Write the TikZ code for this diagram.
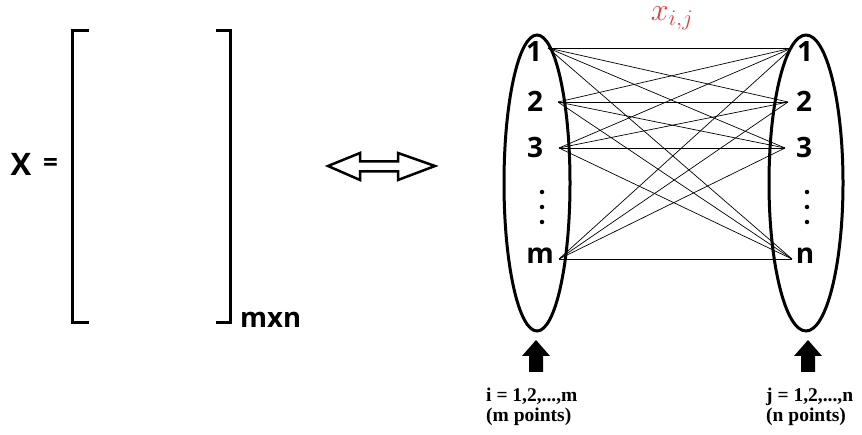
\RequirePackage{fix-cm}
\documentclass[tikz,border=0pt]{standalone}
\usepackage{fontspec}
\setsansfont{Open Sans}
\newfontfamily\timesbf{Liberation Serif}
\definecolor{xred}{RGB}{225,60,60}
\begin{document}
\begin{tikzpicture}[x=1pt,y=-1pt,
  lbl/.style={font=\sffamily\bfseries\fontsize{28}{30}\selectfont, inner sep=0pt, anchor=center},
  brk/.style={line width=3pt, line cap=butt},
  oval/.style={line width=3pt, draw=black},
  edge/.style={line width=0.7pt},
  blockarrow/.style={fill=black, draw=none},
  caption/.style={font=\timesbf\bfseries\fontsize{19.5}{21}\selectfont, inner sep=0pt, anchor=base west},
  dot/.style={circle, fill=black, inner sep=0pt, minimum size=4.5pt}]
\useasboundingbox (0,0) rectangle (862,435);
% matrix side
\node[font=\sffamily\bfseries\fontsize{31}{33}\selectfont, inner sep=0pt] (X) at (21,164) {X};
\node[font=\sffamily\bfseries\fontsize{26}{28}\selectfont, inner sep=0pt] (eq) at (50.5,165) {=};
\coordinate (bl1) at (89,31);
\coordinate (bl2) at (72,31);
\coordinate (bl3) at (72,323);
\coordinate (bl4) at (89,323);
\draw[brk] (bl1) -- (bl2) -- (bl3) -- (bl4);
\coordinate (br1) at (216,31);
\coordinate (br2) at (230,31);
\coordinate (br3) at (230,323);
\coordinate (br4) at (216,323);
\draw[brk] (br1) -- (br2) -- (br3) -- (br4);
\node[font=\sffamily\bfseries\fontsize{27.5}{29}\selectfont, inner sep=0pt, anchor=base west] (mxn) at (240,328) {mxn};
% double arrow
\draw[line width=2.5pt, fill=white, line join=miter]
  (328,166) -- (360,153) -- (360,161.5) -- (398,161.5) -- (398,153) -- (435,166)
  -- (398,180) -- (398,171.5) -- (360,171.5) -- (360,180) -- cycle;
% ellipses
\draw[oval] (537,183) ellipse [x radius=33, y radius=148];
\draw[oval] (806,183) ellipse [x radius=37, y radius=148];
% labels
\node[lbl] (l1) at (534,52) {1};
\node[lbl] (l2) at (535,101) {2};
\node[lbl] (l3) at (535,148) {3};
\node[lbl] (lm) at (540,256) {m};
\node[dot] (ld1) at (542,192) {};
\node[dot] (ld2) at (542,207) {};
\node[dot] (ld3) at (542,222) {};
\node[lbl] (r1) at (805,52) {1};
\node[lbl] (r2) at (804,101) {2};
\node[lbl] (r3) at (804,148) {3};
\node[lbl] (rn) at (805,256) {n};
\node[dot] (rd1) at (807,192) {};
\node[dot] (rd2) at (807,207) {};
\node[dot] (rd3) at (807,222) {};
% endpoints
\coordinate (a1) at (548,48);
\coordinate (a2) at (558,102);
\coordinate (a3) at (559,148);
\coordinate (a4) at (559,259);
\coordinate (b1) at (792,48);
\coordinate (b2) at (788,102);
\coordinate (b3) at (785,148);
\coordinate (b4) at (792,259);
\foreach \i in {1,...,4}{
  \foreach \j in {1,...,4}{
    \draw[edge] (a\i) -- (b\j);
  }
}
\node[text=xred, inner sep=0pt, font=\fontsize{32}{34}\selectfont] (xij) at (672,18) {$x_{i,j}$};
% up arrows
\draw[blockarrow] (536,340) -- (550,356) -- (543,356) -- (543,372) -- (529,372) -- (529,356) -- (522,356) -- cycle;
\draw[blockarrow] (808,340) -- (822,356) -- (815,356) -- (815,372) -- (801,372) -- (801,356) -- (794,356) -- cycle;
% captions
\node[caption] (ci) at (486,402) {i = 1,2,...,m};
\node[caption] (cm) at (486,421) {(m points)};
\node[caption] (cj) at (766,402) {j = 1,2,...,n};
\node[caption] (cn) at (766,421) {(n points)};
\end{tikzpicture}
\end{document}
